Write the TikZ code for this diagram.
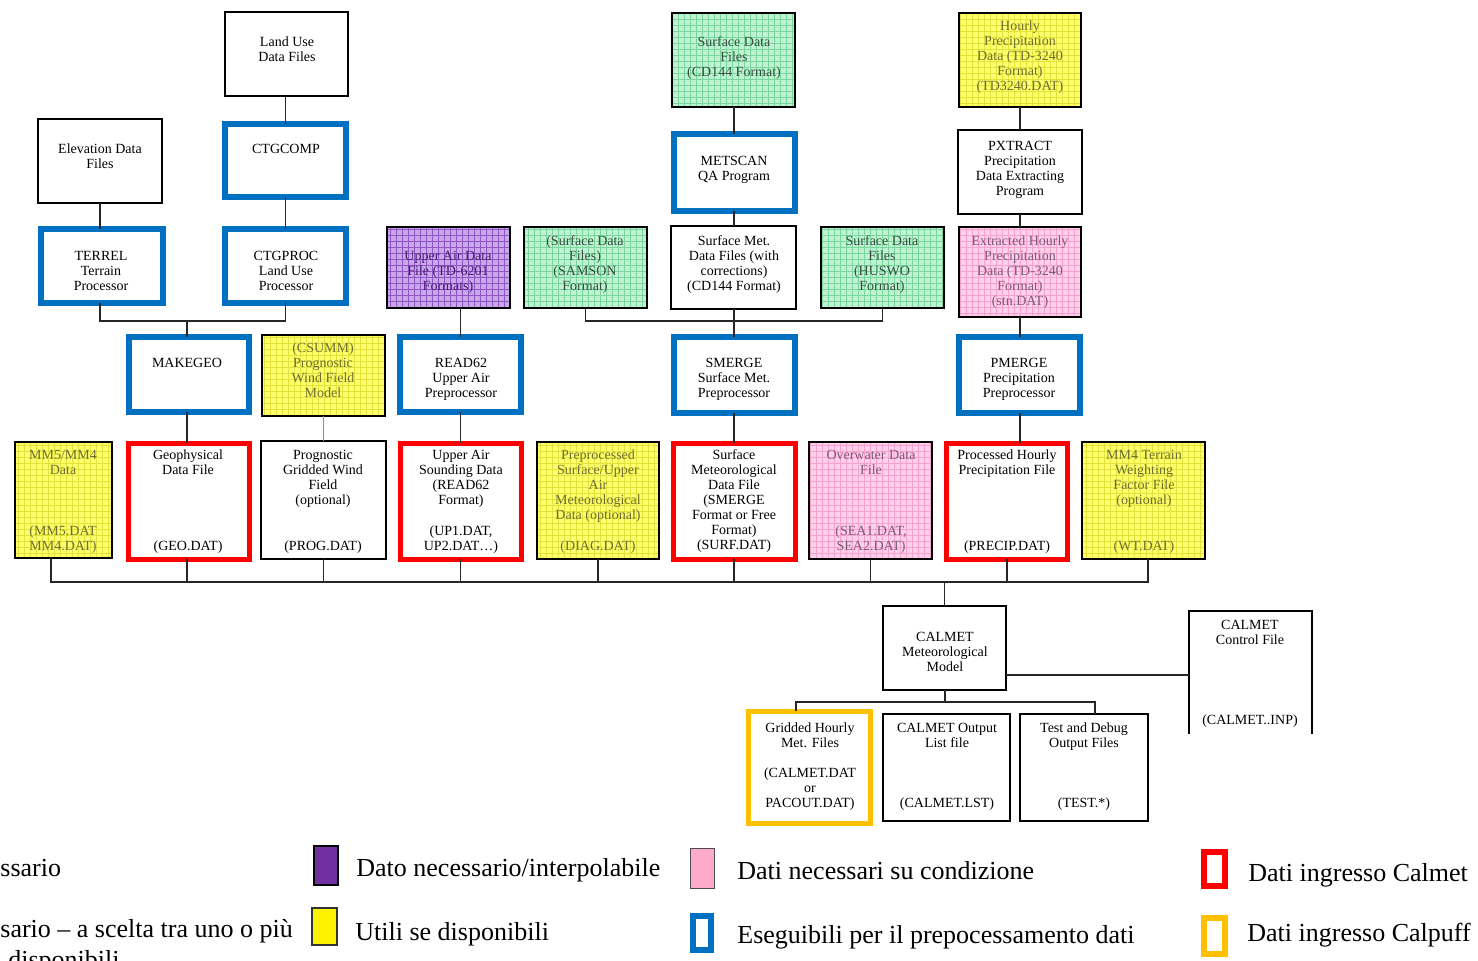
\documentclass[tikz,border=0pt]{standalone}
\usepackage{fontspec}
\setmainfont{Liberation Serif}
\usetikzlibrary{patterns}
\definecolor{ybase}{HTML}{FFFF6E}\definecolor{ygrid}{HTML}{E2E23A}\definecolor{ytext}{HTML}{6E6E32}
\definecolor{gbase}{HTML}{BFF2D2}\definecolor{ggrid}{HTML}{7AD69C}\definecolor{gtext}{HTML}{3A4E42}
\definecolor{pbase}{HTML}{C9A8EA}\definecolor{pgrid}{HTML}{8F55C4}\definecolor{ptext}{HTML}{4A2070}
\definecolor{kbase}{HTML}{FFD0EA}\definecolor{kgrid}{HTML}{F5A2CF}\definecolor{ktext}{HTML}{7A5A7A}
\definecolor{cblue}{HTML}{0070C0}\definecolor{cred}{HTML}{FF0000}\definecolor{corange}{HTML}{FFC000}
\definecolor{cpurple}{HTML}{7030A0}\definecolor{cpink}{HTML}{FFAACB}
\newcommand\bx[6]{\pgfmathsetmacro\bxw{(#5-#3)/2}\pgfmathsetmacro\bxh{(#6-#4)/2}%
  \pgfmathsetmacro\bxx{(#3+#5)/2}\pgfmathsetmacro\bxy{(#4+#6)/2}%
  \node[box,#2,minimum width=\bxw pt,minimum height=\bxh pt] (#1) at (\bxx,\bxy) {};}
\newcommand\tx[5]{\node[bt,#2] (#1) at (#3,#4) {#5};}
\newcommand\lgd[4]{\node[lgt] (#1) at (#2,#3) {#4};}
\begin{document}
\begin{tikzpicture}[x=0.5pt,y=-0.5pt,
  box/.style={rectangle,inner sep=0pt,outer sep=0pt},
  wbox/.style={draw=black,line width=0.75pt,fill=white},
  bbox/.style={draw=cblue,line width=3pt,fill=white},
  rbox/.style={draw=cred,line width=2.6pt,fill=white},
  obox/.style={draw=corange,line width=2.6pt,fill=white},
  ybox/.style={draw=black,line width=1pt,preaction={fill=ybase},preaction={pattern=grid,pattern color=ygrid}},
  gbox/.style={draw=black,line width=1pt,preaction={fill=gbase},preaction={pattern=grid,pattern color=ggrid}},
  pbox/.style={draw=black,line width=1pt,preaction={fill=pbase},preaction={pattern=grid,pattern color=pgrid}},
  kbox/.style={draw=black,line width=1pt,preaction={fill=kbase},preaction={pattern=grid,pattern color=kgrid}},
  bt/.style={anchor=north,yshift=4.75pt,align=center,inner sep=0pt,font=\fontsize{7}{7.5}\selectfont},
  yt/.style={text=ytext},gt/.style={text=gtext},ptx/.style={text=ptext},kt/.style={text=ktext},
  conn/.style={draw=black!85,line width=0.6pt},
  lgt/.style={anchor=base west,inner sep=0pt,font=\fontsize{13}{15}\selectfont},
  sw/.style={rectangle,inner sep=0pt,outer sep=0pt}]
\useasboundingbox (0,0) rectangle (1478,961);
\fill[white] (0,0) rectangle (1478,961);

% ---------- boxes ----------
\bx{landuse}{wbox}{225}{12}{348}{96}
\bx{elev}{wbox}{38}{119}{162}{203}
\bx{ctgcomp}{bbox}{225}{124}{346}{197}
\bx{terrel}{bbox}{41}{229}{163}{303}
\bx{ctgproc}{bbox}{225}{229}{346}{303}
\bx{upperair}{pbox}{387}{227}{510}{308}
\bx{samson}{gbox}{524}{227}{647}{308}
\bx{surfmet}{wbox}{671}{226}{796}{309}
\bx{huswo}{gbox}{821}{227}{944}{308}
\bx{extracted}{kbox}{959}{227}{1081}{317}
\bx{cdf}{gbox}{672}{13}{795}{107}
\bx{metscan}{bbox}{674}{134}{795}{211}
\bx{hourly}{ybox}{959}{13}{1081}{107}
\bx{pxtract}{wbox}{958}{130}{1082}{214}
\bx{makegeo}{bbox}{129}{337}{249}{412}
\bx{csumm}{ybox}{262}{335}{385}{416}
\bx{read62}{bbox}{400}{337}{521}{412}
\bx{smerge}{bbox}{674}{337}{795}{413}
\bx{pmerge}{bbox}{959}{337}{1080}{413}
\bx{mm5}{ybox}{15}{442}{112}{558}
\bx{geo}{rbox}{128.5}{443.5}{249.5}{559.5}
\bx{prog}{wbox}{261}{441}{386}{559}
\bx{upsound}{rbox}{400.5}{443.5}{521.5}{559.5}
\bx{diag}{ybox}{537}{442}{659}{559}
\bx{surf}{rbox}{673.5}{443.5}{795.5}{559.5}
\bx{sea}{kbox}{809}{442}{932}{559}
\bx{precip}{rbox}{946.5}{443.5}{1067.5}{559.5}
\bx{wt}{ybox}{1082}{442}{1205}{559}
\bx{calmet}{wbox}{883}{606}{1006}{690}
\bx{gridded}{obox}{748.5}{711.5}{870.5}{823.5}
\bx{list}{wbox}{883}{714}{1010}{821}
\bx{test}{wbox}{1020}{714}{1148}{821}
\bx{ctrl}{}{1189}{611}{1312}{734}
\draw[line width=0.75pt] (ctrl.south west) |- (ctrl.north east) -- (ctrl.south east);

% ---------- texts ----------
\tx{tlanduse}{}{287}{46}{Land Use\\Data Files}
\tx{telev}{}{100}{153}{Elevation Data\\Files}
\tx{tctgcomp}{}{286}{153}{CTGCOMP}
\tx{tterrel}{}{101}{260}{TERREL\\Terrain\\Processor}
\tx{tctgproc}{}{286}{260}{CTGPROC\\Land Use\\Processor}
\tx{tupperair}{ptx}{448}{260}{Upper Air Data\\File (TD-6201\\Formats)}
\tx{tsamson}{gt}{585}{245}{(Surface Data\\Files)\\(SAMSON\\Format)}
\tx{tsurfmet}{}{734}{245}{Surface Met.\\Data Files (with\\corrections)\\(CD144 Format)}
\tx{thuswo}{gt}{882}{245}{Surface Data\\Files\\(HUSWO\\Format)}
\tx{textracted}{kt}{1020}{245}{Extracted Hourly\\Precipitation\\Data (TD-3240\\Format)\\(stn.DAT)}
\tx{tcdf}{gt}{734}{46}{Surface Data\\Files\\(CD144 Format)}
\tx{tmetscan}{}{734}{165}{METSCAN\\QA Program}
\tx{thourly}{yt}{1020}{30}{Hourly\\Precipitation\\Data (TD-3240\\Format)\\(TD3240.DAT)}
\tx{tpxtract}{}{1020}{150}{PXTRACT\\Precipitation\\Data Extracting\\Program}
\tx{tmakegeo}{}{187}{367}{MAKEGEO}
\tx{tcsumm}{yt}{323}{352}{(CSUMM)\\Prognostic\\Wind Field\\Model}
\tx{tread62}{}{461}{367}{READ62\\Upper Air\\Preprocessor}
\tx{tsmerge}{}{734}{367}{SMERGE\\Surface Met.\\Preprocessor}
\tx{tpmerge}{}{1019}{367}{PMERGE\\Precipitation\\Preprocessor}
\tx{tmm5}{yt}{63}{459}{MM5/MM4\\Data}
\tx{tmm5b}{yt}{63}{535}{(MM5.DAT\\MM4.DAT)}
\tx{tgeo}{}{188}{459}{Geophysical\\Data File}
\tx{tgeob}{}{188}{550}{(GEO.DAT)}
\tx{tprog}{}{323}{459}{Prognostic\\Gridded Wind\\Field\\(optional)}
\tx{tprogb}{}{323}{550}{(PROG.DAT)}
\tx{tupsound}{}{461}{459}{Upper Air\\Sounding Data\\(READ62\\Format)}
\tx{tupsoundb}{}{461}{535}{(UP1.DAT,\\UP2.DAT…)}
\tx{tdiag}{yt}{598}{459}{Preprocessed\\Surface/Upper\\Air\\Meteorological\\Data (optional)}
\tx{tdiagb}{yt}{598}{550}{(DIAG.DAT)}
\tx{tsurf}{}{734}{459}{Surface\\Meteorological\\Data File\\(SMERGE\\Format or Free\\Format)\\(SURF.DAT)}
\tx{tsea}{kt}{871}{459}{Overwater Data\\File}
\tx{tseab}{kt}{871}{535}{(SEA1.DAT,\\SEA2.DAT)}
\tx{tprecip}{}{1007}{459}{Processed Hourly\\Precipitation File}
\tx{tprecipb}{}{1007}{550}{(PRECIP.DAT)}
\tx{twt}{yt}{1144}{459}{MM4 Terrain\\Weighting\\Factor File\\(optional)}
\tx{twtb}{yt}{1144}{550}{(WT.DAT)}
\tx{tcalmet}{}{945}{641}{CALMET\\Meteorological\\Model}
\tx{tctrl}{}{1250}{629}{CALMET\\Control File}
\tx{tctrlb}{}{1250}{724}{(CALMET..INP)}
\tx{tgridded}{}{810}{732}{Gridded Hourly\\Met. Files\\[7.5pt](CALMET.DAT\\or\\PACOUT.DAT)}
\tx{tlist}{}{947}{732}{CALMET Output\\List file}
\tx{tlistb}{}{947}{807}{(CALMET.LST)}
\tx{ttest}{}{1084}{732}{Test and Debug\\Output Files}
\tx{ttestb}{}{1084}{807}{(TEST.*)}

% ---------- connectors ----------
\draw[conn] (ctgcomp.north) -- (ctgcomp.north |- landuse.south);
\draw[conn] (ctgcomp.south) -- (ctgproc.north -| ctgcomp.south);
\draw[conn] (elev.south) -- (terrel.north -| elev.south);
\coordinate (j1) at (187,321);
\draw[conn] (terrel.south -| elev.south) |- (ctgproc.south |- j1) -- (ctgproc.south);
\draw[conn] (j1) -- (j1 |- makegeo.north);
\draw[conn] (makegeo.south -| j1) -- (geo.north -| j1);
\draw[conn,draw=black!45] (csumm.south) -- (prog.north -| csumm.south);
\draw[conn] (read62.north) -- (read62.north |- upperair.south);
\draw[conn] (read62.south) -- (upsound.north -| read62.south);
\coordinate (xm) at (734,0);
\draw[conn] (cdf.south -| xm) -- (metscan.north -| xm);
\draw[conn] (metscan.south -| xm) -- (surfmet.north -| xm);
\draw[conn] (surfmet.south -| xm) -- (smerge.north -| xm);
\coordinate (j2) at (734,321);
\draw[conn] (samson.south) |- (j2) -| (huswo.south);
\draw[conn] (smerge.south -| xm) -- (surf.north -| xm);
\coordinate (xp) at (1020,0);
\draw[conn] (hourly.south -| xp) -- (pxtract.north -| xp);
\draw[conn] (pxtract.south -| xp) -- (extracted.north -| xp);
\draw[conn] (extracted.south -| xp) -- (pmerge.north -| xp);
\draw[conn] (pmerge.south -| xp) -- (precip.north -| xp);
\coordinate (busL) at (51,582);
\coordinate (busR) at (1148,582);
\draw[conn] (mm5.south -| busL) -- (busL) -- (busR) -- (wt.south -| busR);
\draw[conn] (geo.south -| j1) -- (busL -| j1);
\draw[conn] (prog.south -| csumm.south) -- (busL -| csumm.south);
\draw[conn] (upsound.south -| read62.south) -- (busL -| read62.south);
\draw[conn] (diag.south) -- (diag.south |- busL);
\draw[conn] (surf.south -| xm) -- (busL -| xm);
\draw[conn] (sea.south) -- (sea.south |- busL);
\draw[conn] (precip.south -| precip.center) -- (busL -| precip.center);
\draw[conn] (calmet.north) -- (calmet.north |- busL);
\coordinate (ob) at (945,702);
\coordinate (obL) at (796,702);
\coordinate (obR) at (1095,702);
\coordinate (cy) at (0,675);
\draw[conn] (calmet.south -| ob) -- (ob);
\draw[conn] (gridded.north -| obL) -- (obL) -- (obR) -- (test.north -| obR);
\draw[conn] (calmet.east |- cy) -- (ctrl.west |- cy);

% ---------- legend ----------
\lgd{l1}{0}{877}{ssario}
\lgd{l2}{0}{937}{sario – a scelta tra uno o più}
\lgd{l3}{8}{968}{disponibili}
\node[sw,fill=cpurple,draw=black,line width=0.6pt,minimum width=12pt,minimum height=19.5pt] (sw1) at (326,865.5) {};
\lgd{l4}{356}{877}{Dato necessario/interpolabile}
\node[sw,fill=yellow,draw=black!80,line width=0.6pt,minimum width=12.5pt,minimum height=18.5pt] (sw2) at (324.5,926.5) {};
\lgd{l5}{355}{940}{Utili se disponibili}
\node[sw,fill=cpink,draw=black!70,line width=0.5pt,minimum width=12pt,minimum height=19.5pt] (sw3) at (702,868.5) {};
\lgd{l6}{737}{879}{Dati necessari su condizione}
\node[sw,draw=cblue,line width=3pt,minimum width=9pt,minimum height=17pt] (sw4) at (702,933) {};
\lgd{l7}{737}{943}{Eseguibili per il prepocessamento dati}
\node[sw,draw=cred,line width=3pt,minimum width=10.5pt,minimum height=17pt] (sw5) at (1214.5,869) {};
\lgd{l8}{1248}{881}{Dati ingresso Calmet}
\node[sw,draw=corange,line width=3pt,minimum width=10.5pt,minimum height=18pt] (sw6) at (1214.5,936) {};
\lgd{l9}{1247}{941}{Dati ingresso Calpuff}
\end{tikzpicture}
\end{document}
